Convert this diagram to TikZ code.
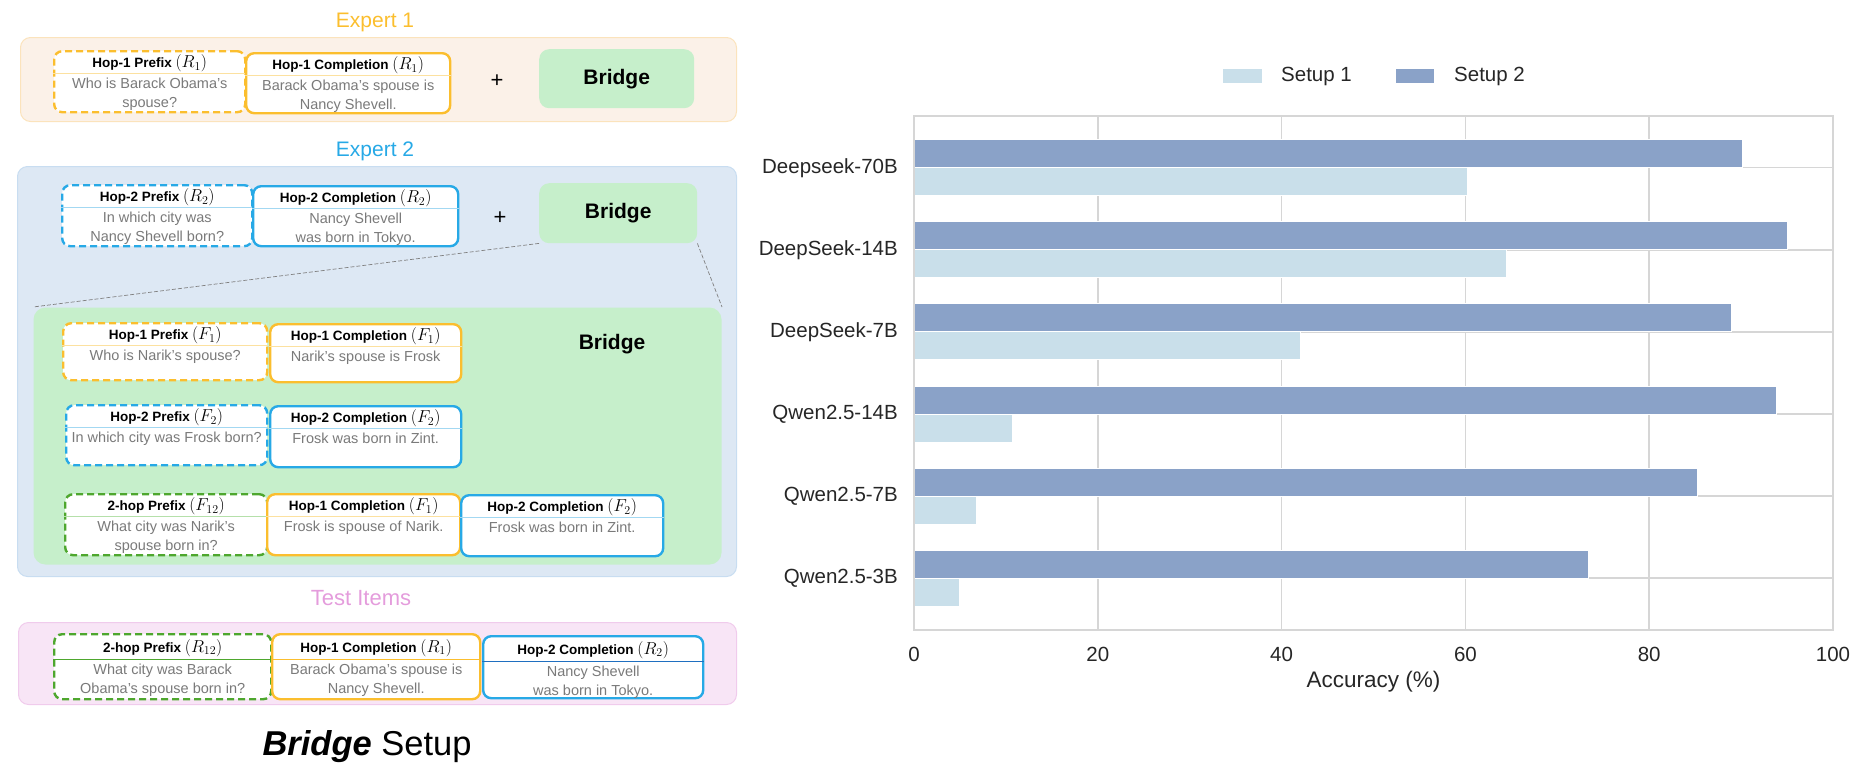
\documentclass[tikz,border=0pt]{standalone}
\usepackage{amsmath}
\usepackage{fontspec}
\setmainfont{Liberation Sans}
\usetikzlibrary{positioning,calc}

\definecolor{hopone}{HTML}{FBBE2E}
\definecolor{hoptwo}{HTML}{27A9E6}
\definecolor{twohop}{HTML}{4EA72E}
\definecolor{hoponelt}{HTML}{FCE1A0}
\definecolor{hoptwolt}{HTML}{A3D8F2}
\definecolor{twohoplt}{HTML}{B5E0AA}
\definecolor{hoptwodk}{HTML}{1F6FC0}
\definecolor{bridgefill}{HTML}{C6EFCB}
\definecolor{expAfill}{HTML}{FBF1E8}
\definecolor{expAline}{HTML}{FBE3BC}
\definecolor{expBfill}{HTML}{DDE8F4}
\definecolor{expBline}{HTML}{C8DDF1}
\definecolor{testfill}{HTML}{F8E5F6}
\definecolor{testline}{HTML}{F0CBEC}
\definecolor{testlabel}{HTML}{E49CDC}
\definecolor{bodygrey}{HTML}{7A7A7A}
\definecolor{setupA}{HTML}{C9DFEA}
\definecolor{setupB}{HTML}{8AA2C8}
\definecolor{gridgrey}{HTML}{D6D6D6}
\definecolor{labeldark}{HTML}{262626}

\tikzset{
  card/.style={draw, fill=white, rounded corners=8pt, line width=2.4pt, inner sep=0pt},
  dashcard/.style={card, dash pattern=on 7pt off 4pt},
  cardtitle/.style={font=\fontsize{13.5}{17}\selectfont\bfseries, inner sep=0pt},
  cardbody/.style={font=\fontsize{14.5}{19}\selectfont, text=bodygrey, align=center, inner sep=0pt},
  panel/.style={rounded corners=10pt, line width=1pt, inner sep=0pt, anchor=north west},
  bridgebox/.style={fill=bridgefill, rounded corners=10pt, inner sep=0pt, anchor=north west,
    font=\fontsize{21}{21}\selectfont\bfseries},
  paneltitle/.style={font=\fontsize{21}{21}\selectfont, inner sep=0pt},
  plus/.style={font=\fontsize{22}{22}\selectfont, inner sep=0pt},
  zoomline/.style={gray, line width=0.7pt, dash pattern=on 4pt off 2pt},
  chart/.style={font=\fontsize{20.5}{20.5}\selectfont, text=labeldark, inner sep=0pt},
  gridline/.style={gridgrey, line width=1.5pt},
  bar/.style={draw=white, line width=1pt},
}

% relation tag in a card title, a bit larger than the bold text
\newcommand{\rtag}[1]{{\fontsize{17}{17}\selectfont$(#1)$}}

\newcommand{\cardsplit}{23}
% name, frame, x, y, width, height, title, body, divider
\newcommand{\qcard}[9]{%
  \node[#2, minimum width=#5pt, minimum height=#6pt, anchor=north west] (#1) at (#3,#4) {};
  \draw[#9, line width=1pt] ([yshift=-\cardsplit pt]#1.north west) -- ([yshift=-\cardsplit pt]#1.north east);
  \node[cardtitle] (#1-t) at ([yshift=-\cardsplit pt/2-2pt]#1.north) {#7};
  \node[cardbody, anchor=north] (#1-b) at ([yshift=-\cardsplit pt-5pt]#1.north) {#8};
}

\begin{document}
\begin{tikzpicture}[x=1pt,y=-1pt]
\useasboundingbox (0,0) rectangle (1860,764);

% Expert 1
\node[paneltitle, text=hopone] (expA-label) at (375,22) {Expert 1};
\node[panel, fill=expAfill, draw=expAline, minimum width=716pt, minimum height=84pt] (expA) at (20,37) {};
\qcard{eA-pre}{dashcard, draw=hopone}{53}{50}{191}{61}{Hop-1 Prefix \rtag{R_1}}{Who is Barack Obama’s\\spouse?}{hoponelt}
\qcard{eA-com}{card, draw=hopone}{245}{52}{204}{60}{Hop-1 Completion \rtag{R_1}}{Barack Obama’s spouse is\\Nancy Shevell.}{hoponelt}
\node[plus] (eA-plus) at (497,81) {+};
\node[bridgebox, minimum width=155pt, minimum height=59pt] (bridgeA) at (539,49) {Bridge};

% Expert 2
\node[paneltitle, text=hoptwo] (expB-label) at (375,151) {Expert 2};
\node[panel, fill=expBfill, draw=expBline, minimum width=719pt, minimum height=410pt] (expB) at (17,166) {};
\qcard{eB-pre}{dashcard, draw=hoptwo}{61}{184}{190}{61}{Hop-2 Prefix \rtag{R_2}}{In which city was\\Nancy Shevell born?}{hoptwolt}
\qcard{eB-com}{card, draw=hoptwo}{252}{185}{205}{60}{Hop-2 Completion \rtag{R_2}}{Nancy Shevell\\was born in Tokyo.}{hoptwolt}
\node[plus] (eB-plus) at (500,218) {+};
\node[bridgebox, minimum width=158pt, minimum height=60pt] (bridgeB) at (539,183) {Bridge};

% zoomed bridge
\node[panel, fill=bridgefill, rounded corners=12pt, minimum width=688pt, minimum height=257pt] (bridgezoom) at (33,307) {};
\draw[zoomline] (bridgeB.south west) -- (bridgezoom.north west);
\draw[zoomline] (bridgeB.south east) -- (bridgezoom.north east);
\node[font=\fontsize{21}{21}\selectfont\bfseries, inner sep=0pt] (bridgezoom-label) at (612,344) {Bridge};
\qcard{bz-pre1}{dashcard, draw=hopone}{62}{322}{204}{57}{Hop-1 Prefix \rtag{F_1}}{Who is Narik’s spouse?}{hoponelt}
\qcard{bz-com1}{card, draw=hopone}{269}{323}{191}{58}{Hop-1 Completion \rtag{F_1}}{Narik’s spouse is Frosk}{hoponelt}
\qcard{bz-pre2}{dashcard, draw=hoptwo}{65}{404}{201}{60}{Hop-2 Prefix \rtag{F_2}}{In which city was Frosk born?}{hoptwolt}
\qcard{bz-com2}{card, draw=hoptwo}{269}{405}{191}{61}{Hop-2 Completion \rtag{F_2}}{Frosk was born in Zint.}{hoptwolt}
\qcard{bz-pre12}{dashcard, draw=twohop}{64}{493}{202}{61}{2-hop Prefix \rtag{F_{12}}}{What city was Narik’s\\spouse born in?}{twohoplt}
\qcard{bz-com1b}{card, draw=hopone}{266}{493}{193}{61}{Hop-1 Completion \rtag{F_1}}{Frosk is spouse of Narik.}{hoponelt}
\qcard{bz-com2b}{card, draw=hoptwo}{460}{494}{202}{61}{Hop-2 Completion \rtag{F_2}}{Frosk was born in Zint.}{hoptwolt}

% Test items
\node[paneltitle, font=\fontsize{22}{22}\selectfont, text=testlabel] (test-label) at (361,598) {Test Items};
\node[panel, fill=testfill, draw=testline, minimum width=718pt, minimum height=82pt] (test) at (18,622) {};
\renewcommand{\cardsplit}{26}
\qcard{t-pre}{dashcard, draw=twohop}{53}{633}{217}{65}{2-hop Prefix \rtag{R_{12}}}{What city was Barack\\Obama’s spouse born in?}{twohop}
\qcard{t-com1}{card, draw=hopone}{271}{633}{208}{65}{Hop-1 Completion \rtag{R_1}}{Barack Obama’s spouse is\\Nancy Shevell.}{hopone}
\qcard{t-com2}{card, draw=hoptwo}{482}{635}{220}{62}{Hop-2 Completion \rtag{R_2}}{Nancy Shevell\\was born in Tokyo.}{hoptwodk}

\node[font=\fontsize{34.5}{34.5}\selectfont, inner sep=0pt] (setup-title) at (367,747) {\textbf{\textit{Bridge}} Setup};

% chart
\foreach \v in {20,40,60,80}
  \draw[gridline] ({914+9.19*\v},115.7) -- ({914+9.19*\v},630);
\foreach \i in {0,...,5}
  \draw[gridline] (914,{167.7+82.1*\i}) -- (1833,{167.7+82.1*\i});
\foreach \model/\sa/\sb [count=\i from 0] in {Deepseek-70B/60.2/90.2, DeepSeek-14B/64.5/95.0,
    DeepSeek-7B/42.1/89.0, Qwen2.5-14B/10.7/93.9, Qwen2.5-7B/6.8/85.2, Qwen2.5-3B/5.0/73.4}{
  \pgfmathsetmacro{\yc}{167.7+82.1*\i}
  \filldraw[bar, fill=setupB] (914,{\yc-28}) rectangle ({914+9.19*\sb},\yc);
  \filldraw[bar, fill=setupA] (914,\yc) rectangle ({914+9.19*\sa},{\yc+28});
  \node[chart, anchor=east] (model-\i) at (898,\yc) {\model};
}
\draw[gridgrey, line width=2pt] (914,115.7) rectangle (1833,630);
\foreach \v in {0,20,...,100}
  \node[chart] (tick-\v) at ({914+9.19*\v},654) {\v};
\node[chart, font=\fontsize{22.5}{22.5}\selectfont] (xlabel) at (1373.5,682) {Accuracy (\%)};

\fill[setupA] (1223,69) rectangle (1262,83);
\node[chart, anchor=west] (leg-1) at (1281,76) {Setup 1};
\fill[setupB] (1396,69) rectangle (1434,83);
\node[chart, anchor=west] (leg-2) at (1454,76) {Setup 2};
\end{tikzpicture}
\end{document}
